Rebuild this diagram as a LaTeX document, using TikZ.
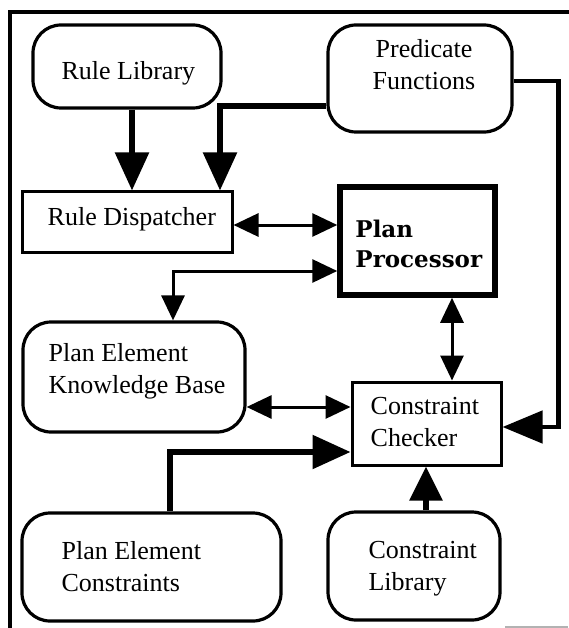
\documentclass[tikz,border=0pt]{standalone}
\usepackage{fontspec}
\setmainfont{Liberation Serif}
\newfontfamily\ppfont{DejaVu Serif}
\usetikzlibrary{arrows.meta,calc}
\begin{document}
\begin{tikzpicture}[x=1pt,y=-1pt,
  rbox/.style={draw, line width=3.2pt, rounded corners=28pt, inner sep=0pt},
  sbox/.style={draw, line width=3pt, inner sep=0pt},
  lbl/.style={font=\fontsize{26}{32}\selectfont, inner sep=0pt, align=left, anchor=west},
  big/.style={line width=5.5pt, -{Triangle[length=38pt,width=33pt]}},
  dbl/.style={line width=3pt, {Triangle[length=25pt,width=23pt]}-{Triangle[length=25pt,width=23pt]}}]
\useasboundingbox (0,0) rectangle (568,628);
% frame
\draw[line width=4pt] (10,645) -- (10,12.5) -- (600,12.5);
\draw[line width=1.2pt, black!30] (505,627) -- (568,627);
% shapes
\node[rbox, minimum width=188pt, minimum height=83pt] (rl) at (127,66.5) {};
\node[rbox, minimum width=184pt, minimum height=107pt] (pf) at (420,78.5) {};
\node[sbox, minimum width=210pt, minimum height=60pt] (rd) at (127,222) {};
\node[sbox, line width=5.5pt, minimum width=155pt, minimum height=108pt] (pp) at (417.5,241) {};
\node[rbox, minimum width=222pt, minimum height=110pt] (kb) at (134,377) {};
\node[sbox, minimum width=149pt, minimum height=83pt] (cc) at (426.5,423.5) {};
\node[rbox, minimum width=259pt, minimum height=108pt] (pec) at (151.5,567) {};
\node[rbox, minimum width=172pt, minimum height=108pt] (cl) at (414,566) {};
% texts
\node[lbl] (rlT) at ([xshift=30pt,yshift=-6.5pt]rl.west) {Rule Library};
\node[lbl, align=center, anchor=center] (pfT) at ([xshift=4pt,yshift=13.5pt]pf.center) {Predicate\\Functions};
\node[lbl] (rdT) at ([xshift=27pt,yshift=3pt]rd.west) {Rule Dispatcher};
\node[lbl, font=\ppfont\bfseries\fontsize{23}{30}\selectfont] (ppT) at ([xshift=18pt,yshift=-3pt]pp.west) {Plan\\Processor};
\node[lbl] (kbT) at ([xshift=27pt,yshift=5.5pt]kb.west) {Plan Element\\Knowledge Base};
\node[lbl] (ccT) at ([xshift=20pt,yshift=1.5pt]cc.west) {Constraint\\Checker};
\node[lbl] (pecT) at ([xshift=41pt]pec.west) {Plan Element\\Constraints};
\node[lbl] (clT) at ([xshift=42pt,yshift=-2.5pt]cl.west) {Constraint\\Library};
% connectors
\coordinate (a1) at ([xshift=5pt]rl.south);
\draw[big] (a1) -- (a1 |- rd.north);
\coordinate (a2s) at ([yshift=-27.5pt]pf.west);
\coordinate (a2e) at ([xshift=93pt]rd.north);
\draw[big] (a2s) -| (a2e);
\coordinate (a3s) at ([yshift=-2.5pt]pf.east);
\coordinate (a3e) at ([yshift=-3.5pt]cc.east);
\coordinate (a3r) at ([xshift=45pt]pf.east);
\draw[line width=4.5pt, -{Triangle[length=40pt,width=32pt]}] (a3s) -| (a3r |- a3e) -- (a3e);
\coordinate (a4s) at ([yshift=-3pt]rd.east);
\draw[dbl] (a4s) -- (a4s -| pp.west);
\coordinate (a5s) at ([yshift=-30pt]pp.west);
\coordinate (a5e) at ([xshift=39pt]kb.north);
\draw[dbl] (a5s) -| (a5e);
\coordinate (a6e) at ([xshift=25.5pt]cc.north);
\draw[dbl] (a6e |- pp.south) -- (a6e);
\coordinate (a7s) at ([yshift=-30pt]kb.east);
\draw[dbl] (a7s) -- (a7s -| cc.west);
\coordinate (a8s) at ([xshift=18.5pt]pec.north);
\coordinate (a8e) at ([yshift=-28.5pt]cc.west);
\draw[big] (a8s) |- (a8e);
\coordinate (a9s) at ([xshift=12pt]cl.north);
\draw[line width=5.5pt, -{Triangle[length=34pt,width=32pt]}] (a9s) -- (a9s |- cc.south);
\end{tikzpicture}
\end{document}
